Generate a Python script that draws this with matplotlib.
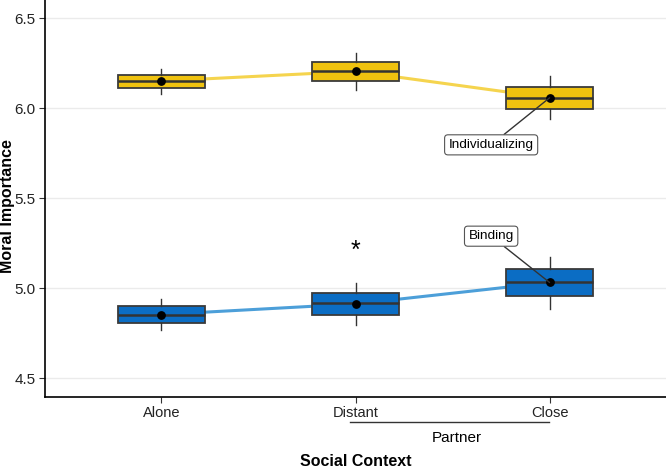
import numpy as np
import matplotlib.pyplot as plt

plt.rcParams['font.family'] = ['Liberation Sans', 'DejaVu Sans']

# Data
contexts = ['Alone', 'Distant', 'Close']
ind_q1 = [6.113, 6.152, 5.994]
ind_med = [6.150, 6.207, 6.056]
ind_q3 = [6.183, 6.256, 6.115]
ind_lo = [6.080, 6.100, 5.937]
ind_hi = [6.217, 6.307, 6.176]
ind_mean = [6.150, 6.204, 6.057]

bin_q1 = [4.807, 4.852, 4.957]
bin_med = [4.852, 4.917, 5.032]
bin_q3 = [4.900, 4.972, 5.106]
bin_lo = [4.767, 4.798, 4.887]
bin_hi = [4.941, 5.029, 5.174]
bin_mean = [4.854, 4.913, 5.032]

pos = np.arange(1, len(contexts) + 1)

fig = plt.figure(figsize=(6.66, 4.68), dpi=100)
ax = fig.add_axes([45 / 666, 1 - 396.7 / 468, 621 / 666, 396.7 / 468])


def draw_group(q1, med, q3, lo, hi, mean, fill, linecol):
    stats = []
    for i in range(len(q1)):
        stats.append({'q1': q1[i], 'med': med[i], 'q3': q3[i],
                      'whislo': lo[i], 'whishi': hi[i], 'fliers': []})
    ax.plot(pos, mean, color=linecol, lw=2.2, zorder=2, solid_capstyle='butt')
    ax.bxp(stats, positions=pos, widths=0.45, patch_artist=True,
           showcaps=False, showfliers=False,
           boxprops=dict(facecolor=fill, edgecolor='#3a3a3a', lw=1.3),
           medianprops=dict(color='#333333', lw=1.8),
           whiskerprops=dict(color='#333333', lw=1.0),
           zorder=3)
    ax.scatter(pos, mean, s=28, color='black', zorder=5)


draw_group(ind_q1, ind_med, ind_q3, ind_lo, ind_hi, ind_mean, '#EFC20F', '#F5D44E')
draw_group(bin_q1, bin_med, bin_q3, bin_lo, bin_hi, bin_mean, '#0B6DC4', '#4C9FD9')

# labels for the two foundations
bbox = dict(boxstyle='round,pad=0.3,rounding_size=0.25', fc='white', ec='#555555', lw=0.8)
ax.annotate('Individualizing', xy=(pos[2], ind_mean[2]), xytext=(2.699, 5.796),
            ha='center', va='center', fontsize=9.7, bbox=bbox, zorder=6,
            arrowprops=dict(arrowstyle='-', color='#333333', lw=1.0,
                            shrinkA=0, shrinkB=0))
ax.annotate('Binding', xy=(pos[2], bin_mean[2]), xytext=(2.699, 5.289),
            ha='center', va='center', fontsize=9.7, bbox=bbox, zorder=6,
            arrowprops=dict(arrowstyle='-', color='#333333', lw=1.0,
                            shrinkA=0, shrinkB=0))

ax.text(pos[1], 5.21, '*', ha='center', va='center', fontsize=18)

ax.set_xlim(0.4, 3.6)
ax.set_ylim(4.398, 6.6)
ax.set_xticks(pos)
ax.set_xticklabels(contexts, fontsize=10.5)
ax.set_yticks([4.5, 5.0, 5.5, 6.0, 6.5])
ax.set_yticklabels(['4.5', '5.0', '5.5', '6.0', '6.5'], fontsize=11)
ax.tick_params(length=4, width=0.8, color='#333333', labelcolor='#222222', pad=3)
ax.grid(axis='y', color='#EBEBEB', lw=1.0)
ax.set_axisbelow(True)
for s in ['top', 'right']:
    ax.spines[s].set_visible(False)
for s in ['left', 'bottom']:
    ax.spines[s].set_linewidth(1.2)

fig.text(7.5 / 666, 1 - 206 / 468, 'Moral Importance', rotation=90, ha='center',
         va='center', fontsize=11.5, fontweight='bold')

# Partner bracket and axis title
fig.add_artist(plt.Line2D([350 / 666, 548.7 / 666], [1 - 421.7 / 468, 1 - 421.7 / 468],
                          color='#333333', lw=1.0))
fig.text(457 / 666, 1 - 438.5 / 468, 'Partner', ha='center', va='center', fontsize=11)
fig.text(355.5 / 666, 1 - 462 / 468, 'Social Context', ha='center', va='center',
         fontsize=11.5, fontweight='bold')

plt.savefig('out.png', dpi=100)
